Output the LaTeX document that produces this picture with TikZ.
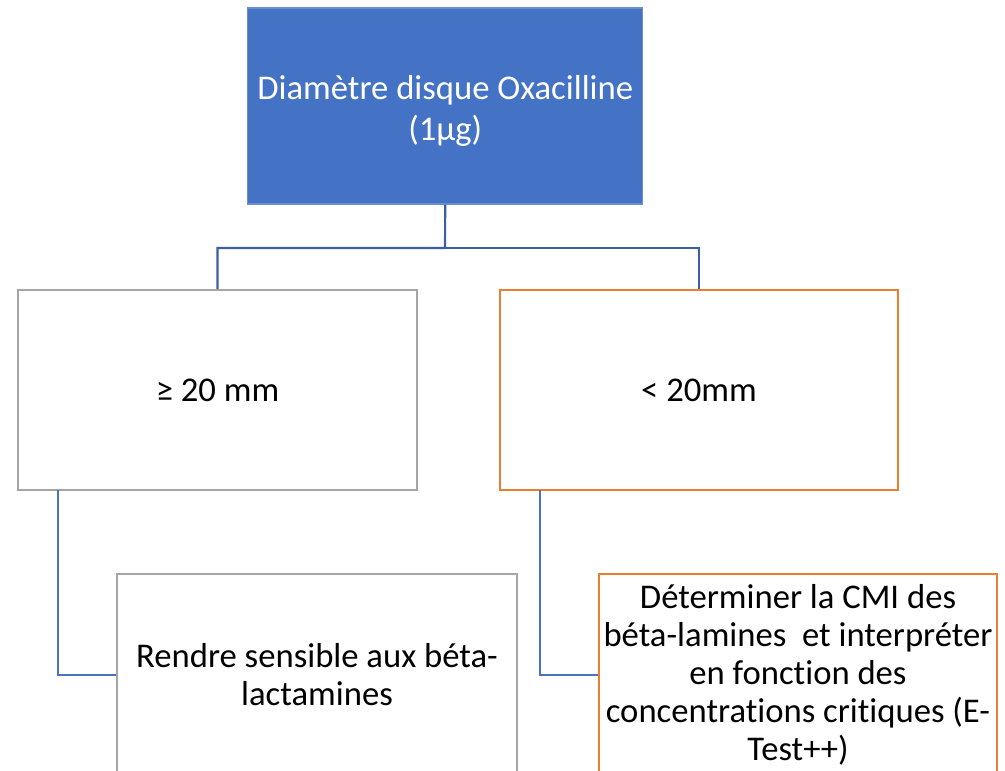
\documentclass[tikz,border=0pt]{standalone}
\usepackage{fontspec}
\setmainfont{Carlito}[Ligatures={NoCommon}]
\definecolor{topblue}{HTML}{4472C4}
\definecolor{linkblue}{HTML}{3B5EA6}
\definecolor{linkblue2}{HTML}{4A72C0}
\definecolor{boxgray}{HTML}{A5A5A5}
\definecolor{boxorange}{HTML}{ED7D31}
\tikzset{
  px/.style={x=0.75pt,y=-0.75pt},
  box/.style={draw, line width=1.5pt, align=center, inner sep=2pt, font=\fontsize{26}{28.5}\selectfont, text=black},
  graybox/.style={box, draw=boxgray},
  orangebox/.style={box, draw=boxorange},
  topbox/.style={box, draw=topblue!80!white, line width=0.8pt, fill=topblue, text=white},
  toptextstyle/.style={align=center, inner sep=0pt, text=white, font=\fontsize{26}{30.5}\selectfont},
  link/.style={draw=linkblue, line width=1.6pt},
  link2/.style={draw=linkblue2, line width=1.5pt},
}
\begin{document}
\begin{tikzpicture}[px]
\useasboundingbox (0,0) rectangle (1005,770);
\clip (0,0) rectangle (1005,770);
\node[topbox, minimum width=296pt, minimum height=147pt] (top) at (445.25,106) {};
\node[toptextstyle] (toptext) at (445.25,111) {Diamètre disque Oxacilline\\(1µg)};
\node[graybox, minimum width=299pt, minimum height=150pt] (left) at (217.5,390) {≥ 20 mm};
\node[orangebox, minimum width=298.5pt, minimum height=150pt] (right) at (699,390) {< 20mm};
\node[graybox, minimum width=300pt, minimum height=151.5pt] (bl) at (317,675) {Rendre sensible aux béta-\\lactamines};
\node[orangebox, minimum width=298.5pt, minimum height=151.5pt] (br) at (798,675) {Déterminer la CMI des\\béta-lamines\ \ et interpréter\\en fonction des\\concentrations critiques (E-\\Test++)};
\coordinate (mid) at (445,248);
\draw[link] (top.south) -- (mid) -| (left.north);
\draw[link] (mid) -| (right.north);
\coordinate (lstart) at (58,490);
\coordinate (rstart) at (540,490);
\draw[link2] (lstart) |- (bl.west);
\draw[link2] (rstart) |- (br.west);
\end{tikzpicture}
\end{document}
